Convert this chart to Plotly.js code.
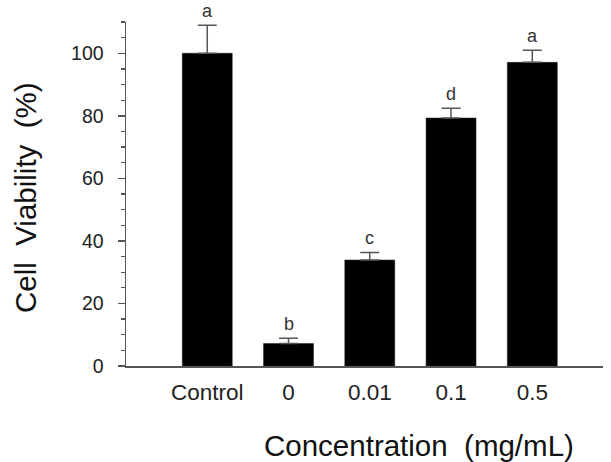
<!DOCTYPE html>
<html>
<head>
<meta charset="utf-8">
<script src="https://cdn.plot.ly/plotly-3.0.1.min.js"></script>
<style>html,body{margin:0;padding:0;background:#fff;}#chart{width:611px;height:462px;}</style>
</head>
<body>
<div id="chart"></div>
<script>
const categories = ["Control", "0", "0.01", "0.1", "0.5"];
const viability = [100, 7.2, 33.9, 79.3, 97.1];
const errors = [9.0, 1.7, 2.4, 3.1, 3.9];
const letters = ["a", "b", "c", "d", "a"];

const FONT = "Liberation Sans, Arial, sans-serif";

const trace = {
  type: "bar",
  x: categories,
  y: viability,
  width: 0.615,
  marker: {color: "#000000", line: {color: "#222", width: 0.5}},
  error_y: {type: "data", array: errors, arrayminus: errors.map(() => 0), symmetric: false,
            color: "#555", thickness: 1.5, width: 9.5},
  hoverinfo: "none"
};

const annotations = categories.map((c, i) => ({
  x: i, y: viability[i] + errors[i], xref: "x", yref: "y",
  text: letters[i], showarrow: false, yanchor: "bottom", yshift: 2,
  font: {family: FONT, size: 18, color: "#333"}
}));
annotations.push({
  xref: "paper", yref: "paper", x: (419 - 126) / (603 - 126), y: (366 - 445) / (366 - 22),
  xanchor: "center", yanchor: "middle", showarrow: false,
  text: "Concentration&nbsp;&nbsp;(mg/mL)",
  font: {family: FONT, size: 29.5, color: "#111"}
});
annotations.push({
  xref: "paper", yref: "paper", x: (25 - 126) / (603 - 126), y: (366 - 198) / (366 - 22),
  xanchor: "center", yanchor: "middle", showarrow: false, textangle: -90,
  text: "Cell&nbsp;&nbsp;Viability&nbsp;&nbsp;(%)",
  font: {family: FONT, size: 29.5, color: "#111"}
});

const layout = {
  width: 611, height: 462,
  margin: {l: 126, r: 8, t: 22, b: 96},
  paper_bgcolor: "#fff", plot_bgcolor: "#fff",
  showlegend: false,
  xaxis: {
    type: "category", range: [-1, 4.87],
    showline: true, linecolor: "#555", linewidth: 1.5,
    ticks: "", showgrid: false, zeroline: false,
    tickfont: {family: FONT, size: 22.5, color: "#222"},
    ticklabelstandoff: 5
  },
  yaxis: {
    range: [0, 110], showline: true, linecolor: "#555", linewidth: 1.5,
    ticks: "outside", ticklen: 7, tickwidth: 1.5, tickcolor: "#555",
    tickvals: [0, 20, 40, 60, 80, 100],
    minor: {dtick: 5, tick0: 0, ticks: "outside", ticklen: 4, tickwidth: 1.2, tickcolor: "#555", showgrid: false},
    showgrid: false, zeroline: false,
    tickfont: {family: FONT, size: 19.5, color: "#222"},
    ticklabelstandoff: 10
  },
  annotations: annotations
};

Plotly.newPlot("chart", [trace], layout, {displayModeBar: false, staticPlot: true});
</script>
</body>
</html>
